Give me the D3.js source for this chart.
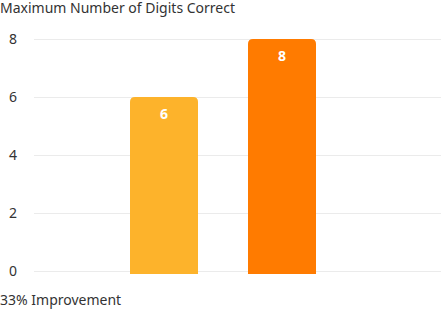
<!DOCTYPE html>
<html><head><meta charset="utf-8">
<script src="https://cdn.jsdelivr.net/npm/d3@7"></script>
<style>body{margin:0;background:#fff}svg{display:block}text{font-family:"Noto Sans",sans-serif}</style>
</head><body>
<script>
const categories = ["Before", "After"];
const values = [6, 8];
const colors = ["#FDB32B", "#FF7B00"];
const yTicks = [0, 2, 4, 6, 8];
const title = "Maximum Number of Digits Correct";
const footer = "33% Improvement";

const W = 441, H = 309;
const svg = d3.select("body").append("svg").attr("width", W).attr("height", H);
const y = d3.scaleLinear().domain([0, 8]).range([271, 39]);
const x = d3.scaleBand().domain(categories).range([130, 316]).paddingInner(50/118).paddingOuter(0);

svg.append("text").attr("x", 0).attr("y", 13).attr("font-size", 14).attr("fill", "#333").text(title);
svg.append("text").attr("x", 0).attr("y", 305).attr("font-size", 14).attr("fill", "#333").text(footer);

const g = svg.append("g");
g.selectAll("line.grid").data(yTicks).join("line").attr("class","grid")
  .attr("x1", 34).attr("x2", 441).attr("y1", d => y(d) + 0.5).attr("y2", d => y(d) + 0.5)
  .attr("stroke", "#ebebeb").attr("stroke-width", 1);
g.selectAll("text.tick").data(yTicks).join("text").attr("class","tick")
  .attr("x", 13).attr("y", d => y(d) + 5).attr("text-anchor", "middle")
  .attr("font-size", 14).attr("fill", "#333").text(d => d);

const r = 5;
g.selectAll("path.bar").data(values).join("path").attr("class","bar")
  .attr("fill", (d,i) => colors[i])
  .attr("d", (d,i) => {
    const x0 = x(categories[i]), w = x.bandwidth(), t = y(d), b = y(0) + 3;
    return `M${x0},${b}V${t+r}Q${x0},${t} ${x0+r},${t}H${x0+w-r}Q${x0+w},${t} ${x0+w},${t+r}V${b}Z`;
  });
g.selectAll("text.lbl").data(values).join("text").attr("class","lbl")
  .attr("x", (d,i) => x(categories[i]) + x.bandwidth()/2).attr("y", d => y(d) + 22)
  .attr("text-anchor", "middle").attr("font-size", 14).attr("font-weight", "bold")
  .attr("fill", "#fff").text(d => d);
</script>
</body></html>
